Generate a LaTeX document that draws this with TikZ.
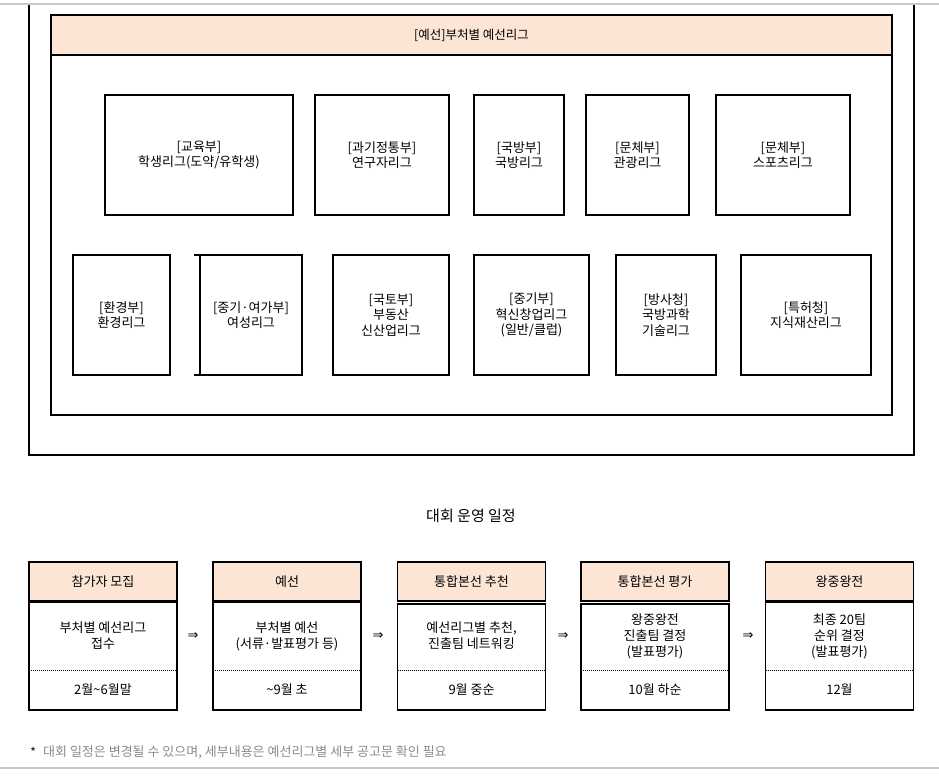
\documentclass[tikz,border=0pt]{standalone}
\usepackage{fontspec}
\setmainfont{Noto Sans CJK KR}
\newfontfamily\symf{DejaVu Sans}
\definecolor{peach}{HTML}{FDE5D5}
\definecolor{lgray}{HTML}{C8C8C8}
\definecolor{ftgray}{HTML}{8A8A8A}
\definecolor{navy}{HTML}{1A1A50}
\tikzset{
  frame/.style={draw=black, line width=1.1pt},
  lbox/.style={draw=black, line width=1.1pt, inner sep=0pt, outer sep=0pt, align=center,
    font=\fontsize{13}{15.5}\selectfont},
  hbox/.style={draw=black, fill=peach, line width=1.1pt, inner sep=0pt, outer sep=0pt,
    minimum width=148pt, minimum height=39pt, font=\fontsize{13}{15}\selectfont},
  bbox/.style={draw=black, line width=1.1pt, inner sep=0pt, outer sep=0pt, anchor=north,
    minimum width=148pt},
  btext/.style={align=center, inner sep=0pt, font=\fontsize{13}{16}\selectfont},
  arr/.style={inner sep=0pt, font=\symf\fontsize{13}{14}\selectfont},
}
\begin{document}
\begin{tikzpicture}[x=1pt,y=-1pt]
\useasboundingbox (0,0) rectangle (939,776);
% gray rules
\draw[lgray, line width=1.5pt] (0,4) -- (939,4);
\draw[lgray, line width=1.5pt] (0,768) -- (939,768);
% outer frame (sides and bottom)
\draw[frame] (29,4.8) -- (29,455) -- (914,455) -- (914,4.8);
% inner frame
\node[draw=black, fill=peach, line width=1.1pt, inner sep=0pt, outer sep=0pt,
  minimum width=841pt, minimum height=40pt, font=\fontsize{12.5}{14}\selectfont]
  (hdr) at (471.5,35) {[예선]부처별 예선리그};
\node[draw=black, line width=1.1pt, inner sep=0pt, outer sep=0pt,
  minimum width=841pt, minimum height=360pt] (inner) at (471.5,235) {};
% row 1
\node[lbox, minimum width=188pt, minimum height=120pt] (r1a) at (199,155) {[교육부]\\학생리그(도약/유학생)};
\node[lbox, minimum width=134pt, minimum height=120pt] (r1b) at (382,155) {[과기정통부]\\연구자리그};
\node[lbox, minimum width=90pt, minimum height=120pt] (r1c) at (519,155) {[국방부]\\국방리그};
\node[lbox, minimum width=103pt, minimum height=120pt] (r1d) at (637.5,155) {[문체부]\\관광리그};
\node[lbox, minimum width=134pt, minimum height=120pt] (r1e) at (783,155) {[문체부]\\스포츠리그};
% row 2
\node[lbox, minimum width=97pt, minimum height=120pt] (r2a) at (121.5,315) {[환경부]\\환경리그};
\node[lbox, minimum width=102pt, minimum height=120pt] (r2b) at (251,315) {[중기·여가부]\\여성리그};
\draw[frame] (r2b.north west) -- ++(-6,0);
\draw[frame] (r2b.south west) -- ++(-6,0);
\node[lbox, minimum width=116pt, minimum height=120pt] (r2c) at (391,315) {[국토부]\\부동산\\신산업리그};
\node[lbox, minimum width=115pt, minimum height=120pt] (r2d) at (531.5,315) {[중기부]\\혁신창업리그\\(일반/클럽)};
\node[lbox, minimum width=100pt, minimum height=120pt] (r2e) at (666,315) {[방사청]\\국방과학\\기술리그};
\node[lbox, minimum width=130pt, minimum height=120pt] (r2f) at (806,315) {[특허청]\\지식재산리그};
% title
\node[inner sep=0pt, font=\fontsize{15}{16}\selectfont] (title) at (471,516) {대회 운영 일정};
% schedule
\foreach \i/\cx/\hd/\bt/\dt/\gap in {
  1/103/{참가자 모집}/{부처별 예선리그\\접수}/{2월\textasciitilde6월말}/0,
  2/287/{예선}/{부처별 예선\\(서류·발표평가 등)}/{\textasciitilde9월 초}/0,
  3/471.5/{통합본선 추천}/{예선리그별 추천,\\진출팀 네트워킹}/{9월 중순}/2,
  4/655/{통합본선 평가}/{왕중왕전\\진출팀 결정\\(발표평가)}/{10월 하순}/2,
  5/839.5/{왕중왕전}/{최종 20팀\\순위 결정\\(발표평가)}/{12월}/0} {
  \node[hbox] (h\i) at (\cx,581.5) {\hd};
  \node[bbox, minimum height={108pt-\gap pt}] (b\i) at (\cx,602+\gap) {};
  \draw[black, line width=0.9pt, dash pattern=on 0.9pt off 1.1pt] (\cx-74,670) -- (\cx+74,670);
  \node[btext] (t\i) at (\cx,636) {\bt};
  \node[btext] (d\i) at (\cx,690) {\dt};
}
\foreach \a/\x in {1/193,2/378,3/563,4/748} {
  \node[arr] (ar\a) at (\x,636) {⇒};
}
% footer
\node[inner sep=0pt, anchor=west, text=navy, font=\fontsize{13}{14}\selectfont] (star) at (30,752) {*};
\node[inner sep=0pt, anchor=west, text=ftgray, font=\fontsize{13}{14}\selectfont] (foot) at (43,752) {대회 일정은 변경될 수 있으며, 세부내용은 예선리그별 세부 공고문 확인 필요};
\end{tikzpicture}
\end{document}
